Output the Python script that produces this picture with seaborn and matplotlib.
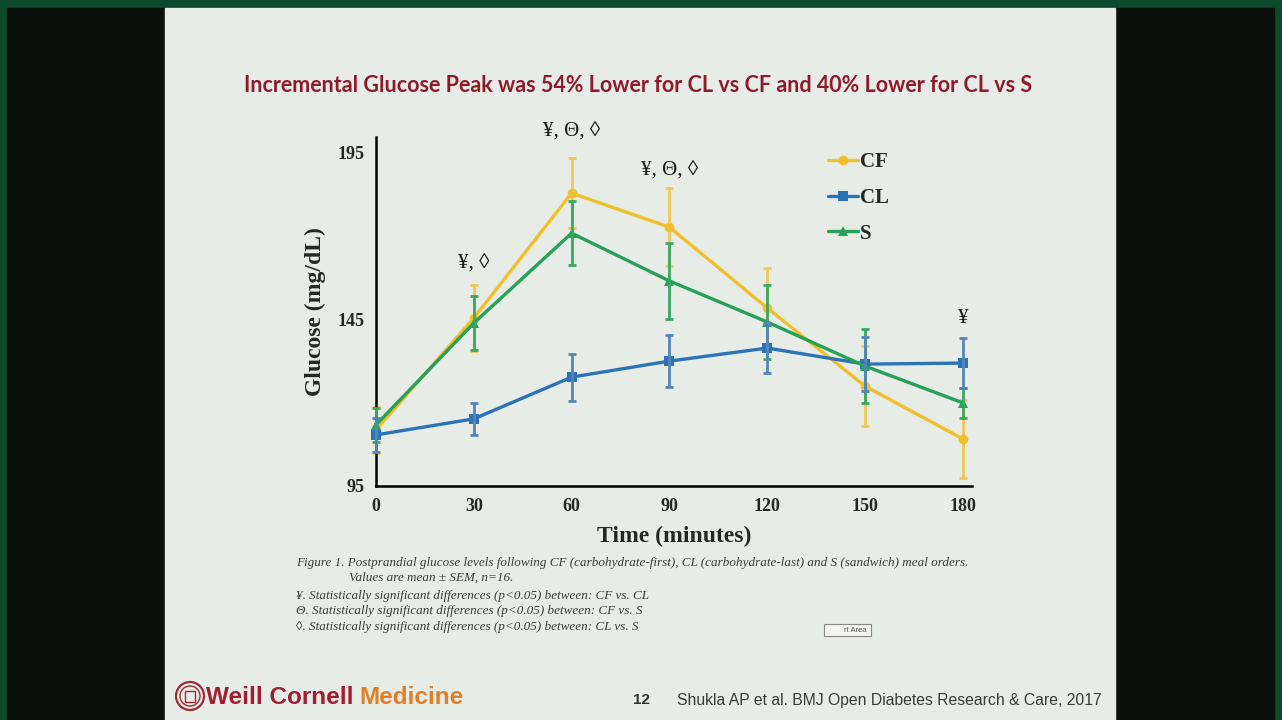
import matplotlib
matplotlib.use('Agg')
import matplotlib.pyplot as plt
from matplotlib.patches import Rectangle, Ellipse
import pandas as pd
import seaborn as sns

# Data (mean and SEM, mg/dL)
time_min = [0, 30, 60, 90, 120, 150, 180]
cf_mean = [111.8, 145.3, 182.7, 172.5, 148.3, 124.9, 109.1]
cf_sem = [7.0, 10.0, 10.5, 11.7, 12.0, 12.0, 11.7]
cl_mean = [110.3, 115.1, 127.6, 132.4, 136.3, 131.5, 131.8]
cl_sem = [5.0, 4.8, 7.0, 7.8, 7.5, 8.0, 7.5]
s_mean = [113.3, 143.8, 170.7, 156.4, 144.1, 130.9, 119.9]
s_sem = [5.0, 8.0, 9.5, 11.5, 11.2, 11.0, 4.5]

series_names = ['CF', 'CL', 'S']
y_ticks = [95, 145, 195]
x_ticks = [0, 30, 60, 90, 120, 150, 180]

# significance marks: (time, label, y in data units)
sig_marks = [(30, '¥, ◊', 161.5), (60, '¥, Θ, ◊', 201.0), (90, '¥, Θ, ◊', 189.3), (180, '¥', 145.2)]

title_text = 'Incremental Glucose Peak was 54% Lower for CL vs CF and 40% Lower for CL vs S'
caption_lines = [
    'Figure 1. Postprandial glucose levels following CF (carbohydrate-first), CL (carbohydrate-last) and S (sandwich) meal orders.',
    'Values are mean ± SEM, n=16.',
    '¥. Statistically significant differences (p<0.05) between: CF vs. CL',
    'Θ. Statistically significant differences (p<0.05) between: CF vs. S',
    '◊. Statistically significant differences (p<0.05) between: CL vs. S',
]

colors = {'CF': '#efbf2c', 'CL': '#2b73b6', 'S': '#27a058'}
err_colors = {'CF': '#f2c850', 'CL': '#5585b8', 'S': '#3aa862'}
markers = {'CF': 'o', 'CL': 's', 'S': '^'}

W, H = 1282, 720


def px(x, y):
    return x / W, 1 - y / H


df = pd.DataFrame({
    'time': time_min * 3,
    'glucose': cf_mean + cl_mean + s_mean,
    'sem': cf_sem + cl_sem + s_sem,
    'meal': ['CF'] * 7 + ['CL'] * 7 + ['S'] * 7,
})

sns.set_style('white')
plt.rcParams['font.family'] = ['Liberation Serif', 'DejaVu Serif']

fig = plt.figure(figsize=(W / 100, H / 100), dpi=100, facecolor='#0c100c')

# green frame + slide background
fig.patches.append(Rectangle((0, 0), 1, 1, transform=fig.transFigure, color='#0d4a2b', zorder=-3))
fig.patches.append(Rectangle(px(7, 720), (1274 - 7) / W, (720 - 8) / H, transform=fig.transFigure,
                             color='#0c100c', zorder=-2))
fig.patches.append(Rectangle(px(165, 720), (1115 - 165) / W, (720 - 8) / H, transform=fig.transFigure,
                             color='#e8ece7', zorder=-1))

ax = fig.add_axes([376 / W, 1 - 486 / H, (972 - 376) / W, (486 - 137) / H])
ax.set_facecolor('none')

# error bars first, so lines sit on top
order_z = {'CF': 2, 'S': 3, 'CL': 4}
for name in series_names:
    sub = df[df['meal'] == name]
    ax.errorbar(sub['time'], sub['glucose'], yerr=sub['sem'], fmt='none', ecolor=err_colors[name],
                elinewidth=2, capsize=3, capthick=2, zorder=order_z[name], clip_on=False)

sns.lineplot(data=df, x='time', y='glucose', hue='meal', style='meal', palette=colors,
             markers=markers, dashes=False, linewidth=2.4, markersize=7, markeredgewidth=0,
             hue_order=series_names, style_order=series_names, ax=ax)

for line in ax.lines:
    line.set_clip_on(False)
for line, name in zip(ax.lines[-3:], series_names):
    line.set_zorder(order_z[name] + 0.5)

ax.set_xlim(0, 182.8)
ax.set_ylim(95, 199.5)
ax.set_xticks(x_ticks)
ax.set_yticks(y_ticks)
ax.tick_params(axis='both', direction='out', length=5, width=1.6, labelsize=13, color='black')
for lab in ax.get_xticklabels() + ax.get_yticklabels():
    lab.set_fontweight('bold')
for side in ['top', 'right']:
    ax.spines[side].set_visible(False)
for side in ['left', 'bottom']:
    ax.spines[side].set_linewidth(1.8)
    ax.spines[side].set_color('black')

ax.set_xlabel('Time (minutes)', fontsize=17, fontweight='bold', labelpad=8)
ax.set_ylabel('Glucose (mg/dL)', fontsize=17, fontweight='bold', labelpad=8)

handles, labels = ax.get_legend_handles_labels()
leg = ax.legend(handles[-3:], labels[-3:], loc='upper left', bbox_to_anchor=(0.727, 1.01), frameon=False,
                handlelength=1.45, handletextpad=0.1, labelspacing=0.75,
                prop={'family': 'Liberation Serif', 'weight': 'bold', 'size': 15})

for t, lab, yv in sig_marks:
    ax.text(t, yv, lab, ha='center', va='center', fontsize=15, color='#1a1a1a', clip_on=False,
            family=['Liberation Serif', 'DejaVu Serif'])

# title
fig.text(*px(638, 85), title_text, ha='center', va='center', fontsize=15.5, fontweight='bold',
         color='#8e1b2b', family=['Lato', 'DejaVu Sans'])

# caption
cap_pos = [(296, 563), (349, 578), (296, 596), (296, 611), (296, 627)]
for (cx, cy), line in zip(cap_pos, caption_lines):
    fig.text(*px(cx, cy), line, ha='left', va='center', fontsize=9.45, style='italic', color='#3a3a3a',
             family=['Liberation Serif', 'DejaVu Serif'])

# small leftover tooltip box
fig.patches.append(Rectangle(px(824, 636), 47 / W, 12 / H, transform=fig.transFigure,
                             facecolor='#f4f4f2', edgecolor='#888888', linewidth=0.8))
fig.text(*px(855, 630), 'rt Area', ha='center', va='center', fontsize=5.5, color='#555555',
         family=['Liberation Sans'])

# footer: logo and credits
for r, lw in [(14, 1.6), (10, 1.0)]:
    fig.patches.append(Ellipse(px(190, 696), 2 * r / W, 2 * r / H, transform=fig.transFigure,
                               facecolor='none', edgecolor='#9e2a38', linewidth=lw))
fig.patches.append(Rectangle(px(185, 702), 10 / W, 11 / H, transform=fig.transFigure,
                             facecolor='none', edgecolor='#9e2a38', linewidth=1.0))
fig.text(*px(206, 697), 'Weill Cornell', ha='left', va='center', fontsize=17.5, fontweight='bold',
         color='#9e1f33', family=['Liberation Sans'])
fig.text(*px(359, 697), 'Medicine', ha='left', va='center', fontsize=17.5, fontweight='bold',
         color='#e07f2a', family=['Liberation Sans'])
fig.text(*px(641, 700), '12', ha='center', va='center', fontsize=11, fontweight='bold',
         color='#333333', family=['Liberation Sans'])
fig.text(*px(677, 700), 'Shukla AP et al. BMJ Open Diabetes Research & Care, 2017', ha='left', va='center',
         fontsize=11.35, color='#3a3a3a', family=['Liberation Sans'])

fig.savefig('out.png', dpi=100, facecolor=fig.get_facecolor())
